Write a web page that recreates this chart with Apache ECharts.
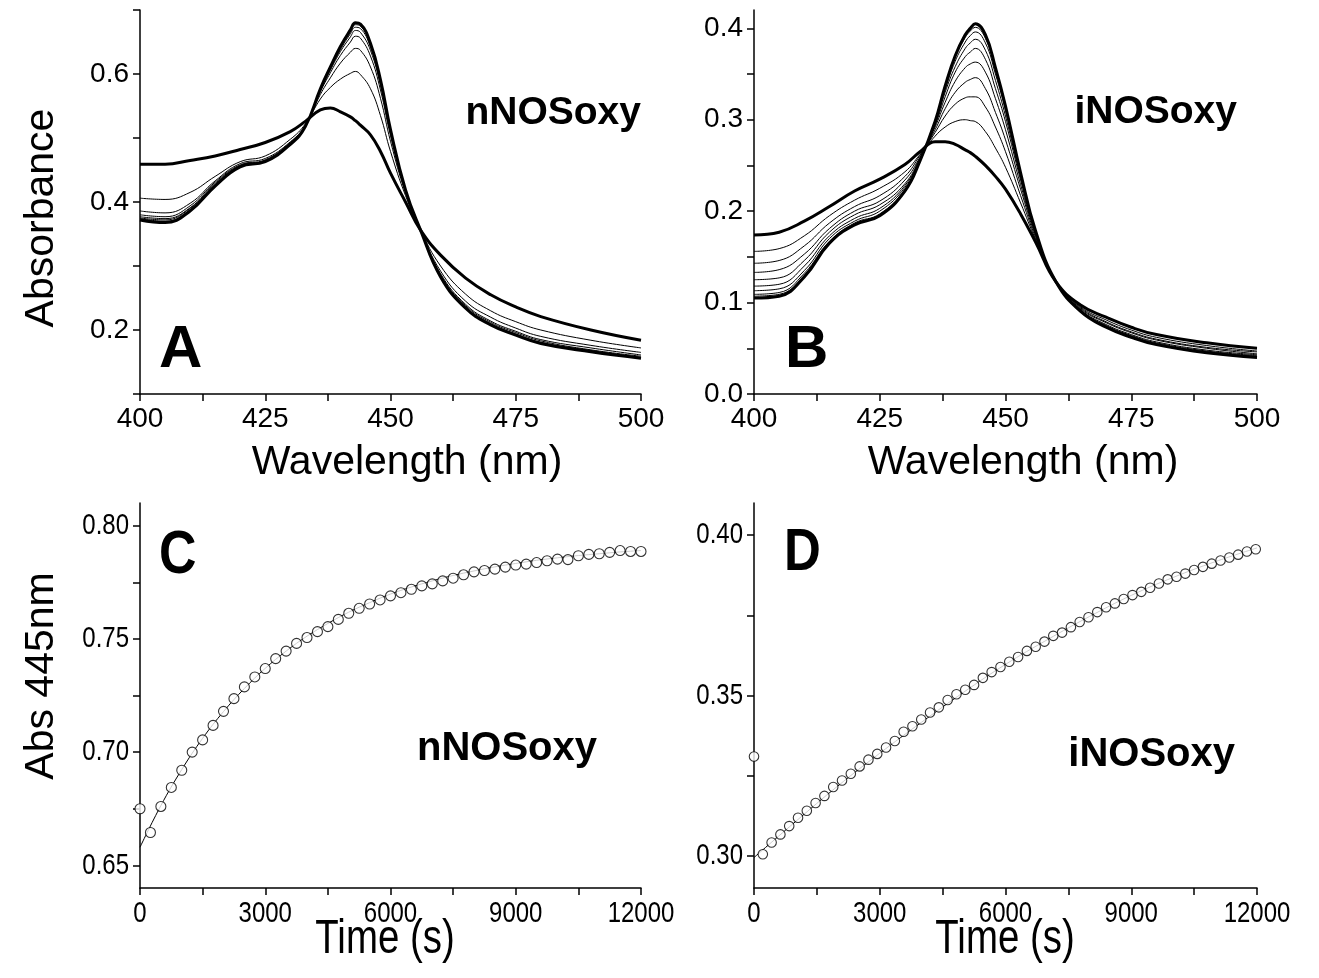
<!DOCTYPE html>
<html>
<head>
<meta charset="utf-8">
<script src="https://cdn.jsdelivr.net/npm/echarts@6/dist/echarts.min.js"></script>
<style>html,body{margin:0;padding:0;background:#fff;}#chart{width:1319px;height:978px;}</style>
</head>
<body>
<div id="chart"></div>
<script>
// ---------- Data ----------
const wavelengths = [400,405,410,415,420,425,430,433,436,438,440,442,443,444,446,448,450,453,456,460,465,470,475,480,490,500];

// Panel A (nNOSoxy) spectra
const A_start = [0.459,0.459,0.465,0.472,0.482,0.493,0.510,0.526,0.544,0.547,0.541,0.533,0.527,0.520,0.505,0.479,0.445,0.400,0.356,0.317,0.281,0.255,0.236,0.221,0.200,0.184];
const A_s1 = [0.406,0.404,0.415,0.440,0.463,0.472,0.498,0.522,0.561,0.579,0.592,0.601,0.604,0.599,0.577,0.535,0.479,0.410,0.356,0.300,0.256,0.230,0.213,0.200,0.184,0.172];
const A_s2 = [0.386,0.383,0.398,0.433,0.460,0.468,0.494,0.520,0.568,0.594,0.617,0.634,0.640,0.637,0.611,0.562,0.495,0.414,0.356,0.292,0.245,0.220,0.203,0.190,0.176,0.165];
const A_s3 = [0.380,0.377,0.394,0.431,0.458,0.466,0.493,0.519,0.572,0.602,0.629,0.650,0.659,0.656,0.628,0.575,0.504,0.416,0.356,0.288,0.240,0.214,0.198,0.185,0.172,0.161];
const A_s4 = [0.377,0.374,0.391,0.429,0.457,0.465,0.492,0.519,0.574,0.606,0.635,0.658,0.668,0.665,0.637,0.582,0.508,0.418,0.356,0.286,0.238,0.212,0.196,0.183,0.169,0.159];
const A_s5 = [0.375,0.372,0.390,0.427,0.456,0.464,0.491,0.518,0.576,0.608,0.638,0.663,0.673,0.671,0.642,0.586,0.510,0.418,0.356,0.284,0.236,0.210,0.194,0.181,0.168,0.157];
const A_s6 = [0.374,0.370,0.388,0.426,0.456,0.464,0.490,0.518,0.576,0.610,0.641,0.666,0.677,0.675,0.645,0.589,0.512,0.419,0.356,0.284,0.235,0.209,0.193,0.180,0.167,0.157];
const A_end = [0.372,0.368,0.386,0.425,0.455,0.463,0.490,0.518,0.577,0.611,0.643,0.669,0.680,0.678,0.648,0.591,0.513,0.419,0.356,0.283,0.234,0.208,0.192,0.179,0.166,0.156];

// Panel B (iNOSoxy) spectra
const B_start = [0.174,0.177,0.189,0.205,0.222,0.235,0.251,0.265,0.276,0.276,0.273,0.267,0.264,0.260,0.250,0.238,0.224,0.197,0.166,0.123,0.097,0.084,0.073,0.065,0.056,0.050];
const B_s1 = [0.156,0.159,0.173,0.195,0.212,0.225,0.243,0.262,0.282,0.292,0.298,0.300,0.299,0.298,0.287,0.269,0.248,0.209,0.169,0.123,0.095,0.081,0.070,0.062,0.053,0.047];
const B_s2 = [0.143,0.146,0.162,0.187,0.205,0.217,0.238,0.261,0.286,0.304,0.317,0.324,0.325,0.325,0.314,0.292,0.265,0.217,0.171,0.123,0.094,0.079,0.068,0.060,0.051,0.046];
const B_s3 = [0.133,0.136,0.153,0.181,0.200,0.211,0.234,0.259,0.289,0.312,0.330,0.341,0.344,0.346,0.334,0.308,0.278,0.224,0.173,0.123,0.093,0.078,0.067,0.059,0.050,0.044];
const B_s4 = [0.125,0.127,0.146,0.177,0.196,0.207,0.230,0.258,0.292,0.319,0.342,0.357,0.361,0.363,0.352,0.323,0.289,0.229,0.175,0.123,0.092,0.076,0.065,0.057,0.048,0.043];
const B_s5 = [0.118,0.120,0.140,0.173,0.192,0.203,0.228,0.257,0.294,0.325,0.352,0.369,0.374,0.378,0.366,0.334,0.298,0.234,0.176,0.123,0.091,0.075,0.064,0.056,0.047,0.042];
const B_s6 = [0.113,0.115,0.135,0.170,0.189,0.200,0.226,0.256,0.295,0.330,0.358,0.378,0.384,0.388,0.376,0.343,0.304,0.237,0.177,0.123,0.091,0.074,0.063,0.055,0.046,0.041];
const B_s7 = [0.109,0.111,0.132,0.167,0.187,0.197,0.224,0.256,0.297,0.333,0.364,0.385,0.392,0.396,0.384,0.350,0.310,0.239,0.177,0.123,0.090,0.074,0.063,0.055,0.046,0.041];
const B_s8 = [0.107,0.109,0.130,0.166,0.186,0.196,0.223,0.255,0.298,0.336,0.368,0.390,0.397,0.401,0.389,0.354,0.313,0.241,0.178,0.123,0.090,0.073,0.062,0.054,0.045,0.040];
const B_end = [0.105,0.107,0.128,0.165,0.185,0.195,0.222,0.255,0.298,0.337,0.370,0.393,0.400,0.405,0.393,0.357,0.315,0.242,0.178,0.123,0.090,0.073,0.062,0.054,0.045,0.040];

// Panel C (nNOSoxy kinetics at 445 nm)
const C_time = [0,250,500,750,1000,1250,1500,1750,2000,2250,2500,2750,3000,3250,3500,3750,4000,4250,4500,4750,5000,5250,5500,5750,6000,6250,6500,6750,7000,7250,7500,7750,8000,8250,8500,8750,9000,9250,9500,9750,10000,10250,10500,10750,11000,11250,11500,11750,12000];
const C_abs = [0.675,0.6645,0.676,0.6844,0.692,0.700,0.7054,0.7118,0.718,0.7236,0.7288,0.7332,0.7369,0.7413,0.7446,0.748,0.7506,0.7532,0.7554,0.7586,0.7613,0.7635,0.7654,0.7672,0.769,0.7704,0.7719,0.7734,0.7743,0.7756,0.7768,0.7783,0.7796,0.7802,0.7808,0.7817,0.7826,0.783,0.7837,0.7845,0.7852,0.785,0.7867,0.7873,0.7876,0.7882,0.789,0.7886,0.7886];
const C_fitTime = [0,500,1000,1500,2000,2500,3000,3500,4000,4500,5000,5500,6000,6500,7000,7500,8000,8500,9000,9500,10000,10500,11000,11500,12000];
const C_fit = [0.658,0.6764,0.6923,0.7061,0.7179,0.7281,0.7370,0.7446,0.7512,0.7568,0.7618,0.7660,0.7698,0.7729,0.7756,0.7780,0.7800,0.7818,0.7833,0.7847,0.7858,0.7868,0.7876,0.7884,0.7890];

// Panel D (iNOSoxy kinetics at 445 nm)
const D_time = [0,210,420,630,840,1050,1260,1470,1680,1890,2100,2310,2520,2730,2940,3150,3360,3570,3780,3990,4200,4410,4620,4830,5040,5250,5460,5670,5880,6090,6300,6510,6720,6930,7140,7350,7560,7770,7980,8190,8400,8610,8820,9030,9240,9450,9660,9870,10080,10290,10500,10710,10920,11130,11340,11550,11760,11970];
const D_abs = [0.331,0.3005,0.3042,0.3067,0.3093,0.3119,0.3141,0.3165,0.3187,0.3215,0.3235,0.3256,0.3279,0.3300,0.3318,0.3338,0.3358,0.3387,0.3404,0.3425,0.3447,0.3463,0.3486,0.3504,0.3518,0.3533,0.3555,0.3573,0.3589,0.3605,0.3620,0.3639,0.3652,0.3668,0.3686,0.3696,0.3713,0.3729,0.3744,0.3760,0.3775,0.3787,0.3801,0.3813,0.3823,0.3836,0.3849,0.3862,0.3870,0.3880,0.3891,0.3901,0.3911,0.3921,0.3930,0.3939,0.3949,0.3956];
const D_fitTime = [0,1000,2000,3000,4000,5000,6000,7000,8000,9000,10000,11000,12000];
const D_fit = [0.2995,0.3108,0.3218,0.3320,0.3417,0.3510,0.3597,0.3674,0.3746,0.3812,0.3868,0.3917,0.3960];

// Tick values
const wlTicks = [400,412.5,425,437.5,450,462.5,475,487.5,500];
const wlLabels = [400,425,450,475,500];
const A_yTicks = [0.1,0.2,0.3,0.4,0.5,0.6,0.7];
const A_yLabels = [0.2,0.4,0.6];
const B_yTicks = [0,0.05,0.1,0.15,0.2,0.25,0.3,0.35,0.4];
const B_yLabels = [0,0.1,0.2,0.3,0.4];
const timeTicks = [0,1500,3000,4500,6000,7500,9000,10500,12000];
const timeLabels = [0,3000,6000,9000,12000];
const C_yTicks = [0.65,0.675,0.7,0.725,0.75,0.775,0.8];
const C_yLabels = [0.65,0.70,0.75,0.80];
const D_yTicks = [0.30,0.325,0.35,0.375,0.40];
const D_yLabels = [0.30,0.35,0.40];

// ---------- Chart ----------
const F = "'Liberation Sans', Arial, sans-serif";
const NARROW = 0.8;
const pair = (xs, ys) => xs.map((x, i) => [x, ys[i]]);

function ax(gi, min, max, ticks, labels, fmt, showLabel) {
  return {
    type: 'value', gridIndex: gi, min: min, max: max,
    axisLine: { show: true, onZero: false, lineStyle: { color: '#000', width: 1.5 } },
    axisTick: { show: true, inside: false, length: 7, lineStyle: { color: '#000', width: 1.5 }, customValues: ticks },
    axisLabel: { show: showLabel, color: '#000', fontFamily: F, fontSize: 28, margin: 11, customValues: labels, formatter: fmt },
    splitLine: { show: false }
  };
}

const series = [];
function spec(idx, arr, thick) {
  series.push({
    type: 'line', xAxisIndex: idx, yAxisIndex: idx, data: pair(wavelengths, arr),
    showSymbol: false, smooth: 0.45,
    lineStyle: { color: '#000', width: thick ? 3 : 1 }, z: thick ? 3 : 2, silent: true
  });
}
[A_s1, A_s2, A_s3, A_s4, A_s5, A_s6].forEach(a => spec(0, a, false));
spec(0, A_start, true); spec(0, A_end, true);
[B_s1, B_s2, B_s3, B_s4, B_s5, B_s6, B_s7, B_s8].forEach(a => spec(1, a, false));
spec(1, B_start, true); spec(1, B_end, true);

function kin(idx, tf, yf, t, y, size) {
  series.push({
    type: 'line', xAxisIndex: idx, yAxisIndex: idx, data: pair(tf, yf),
    showSymbol: false, smooth: 0.4, lineStyle: { color: '#000', width: 1 }, z: 2, silent: true
  });
  series.push({
    type: 'scatter', xAxisIndex: idx, yAxisIndex: idx, data: pair(t, y),
    symbol: 'circle', symbolSize: size,
    itemStyle: { color: '#fff', borderColor: '#000', borderWidth: 1.1 }, z: 3, silent: true
  });
}
kin(2, C_fitTime, C_fit, C_time, C_abs, 10);
kin(3, D_fitTime, D_fit, D_time, D_abs, 9.5);

function txt(id, x, y, text, font, align, opts) {
  opts = opts || {};
  return { type: 'text', id: id, x: x, y: y, rotation: opts.rot || 0, scaleX: opts.sx || 1,
    style: { text: text, font: font, fill: '#000', textAlign: align || 'center', textVerticalAlign: opts.va || 'middle' } };
}

const graphicBase = [
  txt('t1', 42, 218, 'Absorbance', "41px " + F, 'center', { rot: Math.PI / 2 }),
  txt('t2', 42, 676, 'Abs 445nm', "41px " + F, 'center', { rot: Math.PI / 2 }),
  txt('t3', 407, 463, 'Wavelength (nm)', "41px " + F, 'center'),
  txt('t4', 1023, 463, 'Wavelength (nm)', "41px " + F, 'center'),
  txt('t5', 385, 940, 'Time (s)', "48px " + F, 'center', { sx: NARROW }),
  txt('t6', 1005, 940, 'Time (s)', "48px " + F, 'center', { sx: NARROW }),
  txt('pA', 159, 350, 'A', "bold 60px " + F, 'left'),
  txt('pB', 785, 350, 'B', "bold 60px " + F, 'left'),
  txt('pC', 159, 556, 'C', "bold 61px " + F, 'left', { sx: 0.85 }),
  txt('pD', 784, 553, 'D', "bold 60px " + F, 'left', { sx: 0.85 }),
  txt('nA', 641, 113, 'nNOSoxy', "bold 39px " + F, 'right'),
  txt('nB', 1237, 112, 'iNOSoxy', "bold 39px " + F, 'right'),
  txt('nC', 597, 749, 'nNOSoxy', "bold 40px " + F, 'right'),
  txt('nD', 1235, 755, 'iNOSoxy', "bold 40px " + F, 'right')
];

const option = {
  animation: false,
  backgroundColor: '#fff',
  grid: [
    { left: 140, top: 10, width: 501, height: 384 },
    { left: 754, top: 10, width: 503, height: 384 },
    { left: 140, top: 503, width: 501, height: 385 },
    { left: 754, top: 503, width: 503, height: 385 }
  ],
  xAxis: [
    ax(0, 400, 500, wlTicks, wlLabels, v => String(v), true),
    ax(1, 400, 500, wlTicks, wlLabels, v => String(v), true),
    ax(2, 0, 12000, timeTicks, timeLabels, v => String(v), false),
    ax(3, 0, 12000, timeTicks, timeLabels, v => String(v), false)
  ],
  yAxis: [
    ax(0, 0.1, 0.7, A_yTicks, A_yLabels, v => v.toFixed(1), true),
    ax(1, 0, 0.42, B_yTicks, B_yLabels, v => v.toFixed(1), true),
    ax(2, 0.64, 0.81, C_yTicks, C_yLabels, v => v.toFixed(2), false),
    ax(3, 0.29, 0.41, D_yTicks, D_yLabels, v => v.toFixed(2), false)
  ],
  series: series,
  graphic: graphicBase
};
const chart = echarts.init(document.getElementById('chart'), null, { renderer: 'canvas' });
chart.setOption(option);

// Condensed tick labels for panels C and D (placed through the axes' own scales)
const extra = [];
function condensedLabels(gi, xmin, ymin, xLabels, yLabels, yDigits) {
  xLabels.forEach((v, i) => {
    const p = chart.convertToPixel({ gridIndex: gi }, [v, ymin]);
    extra.push(txt('x' + gi + '_' + i, p[0], p[1] + 11, String(v), "30px " + F, 'center', { sx: NARROW, va: 'top' }));
  });
  yLabels.forEach((v, i) => {
    const p = chart.convertToPixel({ gridIndex: gi }, [xmin, v]);
    extra.push(txt('y' + gi + '_' + i, p[0] - 11, p[1], v.toFixed(yDigits), "30px " + F, 'right', { sx: NARROW }));
  });
}
condensedLabels(2, 0, 0.64, timeLabels, C_yLabels, 2);
condensedLabels(3, 0, 0.29, timeLabels, D_yLabels, 2);
chart.setOption({ graphic: graphicBase.concat(extra) });
</script>
</body>
</html>
